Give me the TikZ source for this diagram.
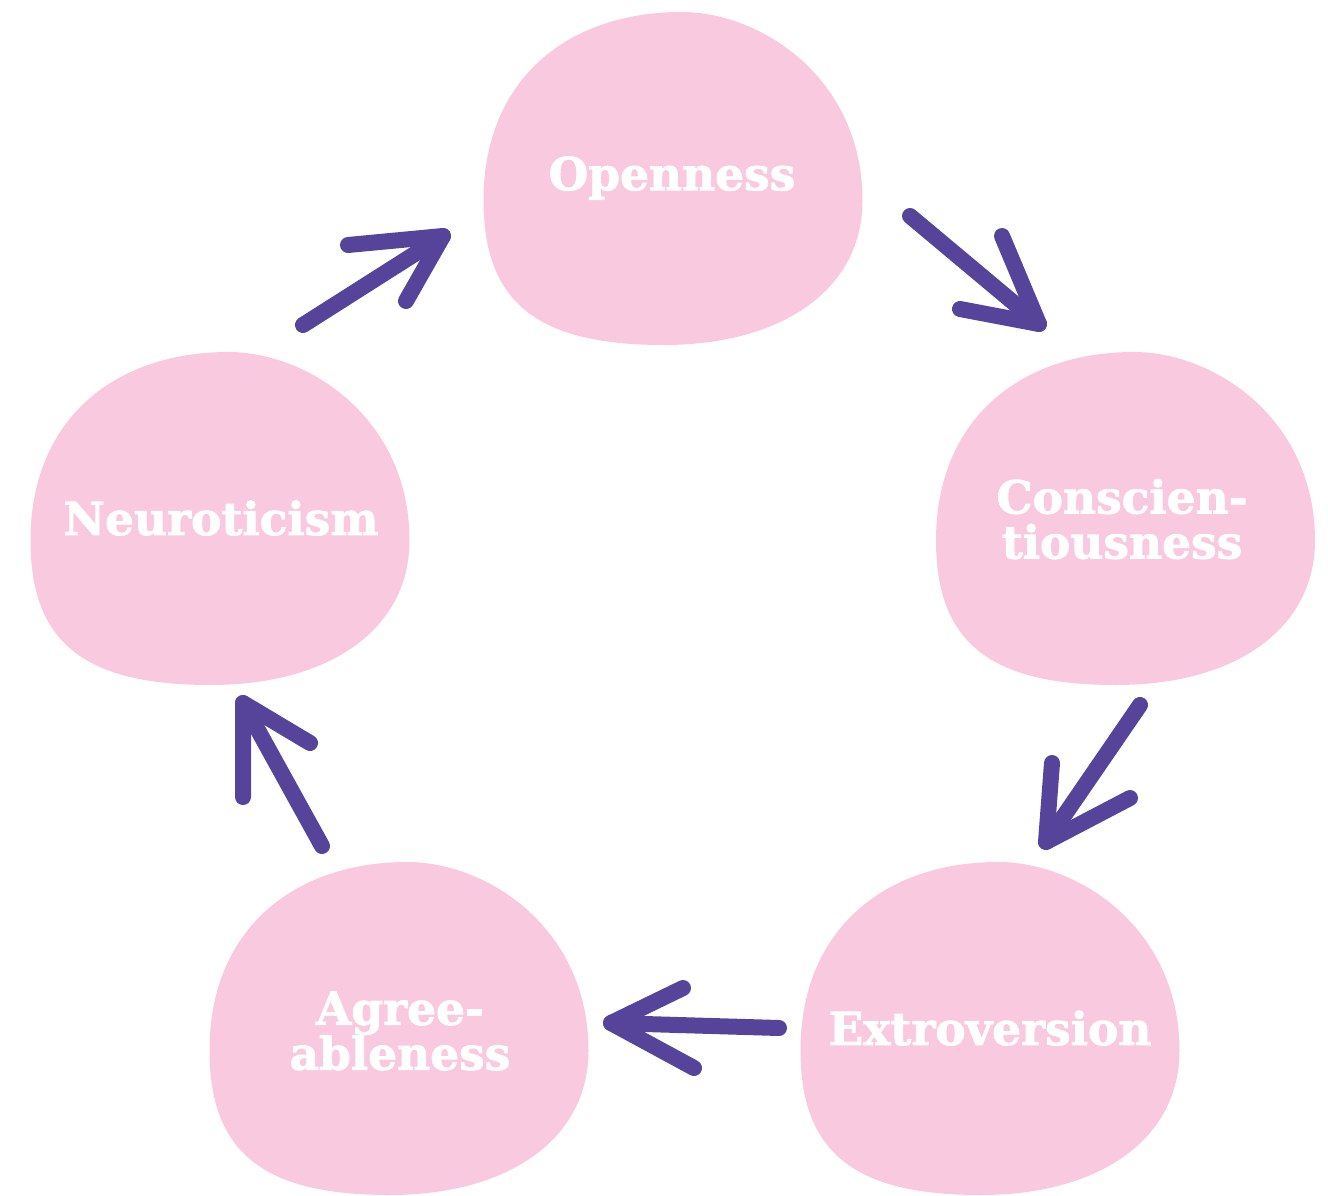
\documentclass[tikz,border=0pt]{standalone}
\usepackage{fontspec}
\setmainfont{DejaVu Serif}[BoldFeatures={FakeBold=1.8}]
\definecolor{blobpink}{HTML}{F8C9DF}
\definecolor{arrpurple}{HTML}{55449A}
\newcommand\myblob[1]{\fill[blobpink,shift={#1}] (8,-166.5) .. controls (88,-166.5) and (189,-100) .. (189,22) .. controls (189,110) and (110,166.5) .. (-10,166.5) .. controls (-135,166.5) and (-190,125) .. (-190,22) .. controls (-190,-100) and (-105,-166.5) .. (8,-166.5) -- cycle;}
\begin{document}
\begin{tikzpicture}[x=1pt,y=-1pt,
  lbl/.style={text=white,font=\fontsize{45.5}{45}\selectfont\bfseries,align=center,inner sep=0pt},
  arr/.style={draw=arrpurple,line width=16pt,line cap=round,line join=round}]
\useasboundingbox (0,0) rectangle (1328,1196);
\myblob{(673.5,178.5)}
\myblob{(220.5,518.5)}
\myblob{(1126,518.5)}
\myblob{(399.5,1028.5)}
\myblob{(990.5,1028.5)}
\node[lbl] (open) at (672,178) {Openness};
\node[lbl] (neur) at (221,518) {Neuroticism};
\node[lbl] (cons) at (1122,519) {Conscien-\\tiousness};
\node[lbl] (agre) at (400,1031) {Agree-\\ableness};
\node[lbl] (extr) at (990,1028) {Extroversion};
% arrow 1: Neuroticism -> Openness
\coordinate (a1s) at (303,325); \coordinate (a1t) at (443,236);
\coordinate (a1a) at (348,245); \coordinate (a1b) at (406,301);
\draw[arr] (a1s) -- (a1t); \draw[arr] (a1a) -- (a1t) -- (a1b);
% arrow 2: Openness -> Conscientiousness
\coordinate (a2s) at (910,216); \coordinate (a2t) at (1039,324);
\coordinate (a2a) at (1002,236); \coordinate (a2b) at (960,309);
\draw[arr] (a2s) -- (a2t); \draw[arr] (a2a) -- (a2t) -- (a2b);
% arrow 3: Conscientiousness -> Extroversion
\coordinate (a3s) at (1140,705); \coordinate (a3t) at (1046,842);
\coordinate (a3a) at (1052,763); \coordinate (a3b) at (1130,798);
\draw[arr] (a3s) -- (a3t); \draw[arr] (a3a) -- (a3t) -- (a3b);
% arrow 4: Extroversion -> Agreeableness
\coordinate (a4s) at (779,1028); \coordinate (a4t) at (611,1023);
\coordinate (a4a) at (683,988); \coordinate (a4b) at (694,1068);
\draw[arr] (a4s) -- (a4t); \draw[arr] (a4a) -- (a4t) -- (a4b);
% arrow 5: Agreeableness -> Neuroticism
\coordinate (a5s) at (322,846); \coordinate (a5t) at (243,703);
\coordinate (a5a) at (243,797); \coordinate (a5b) at (310,743);
\draw[arr] (a5s) -- (a5t); \draw[arr] (a5a) -- (a5t) -- (a5b);
\end{tikzpicture}
\end{document}
